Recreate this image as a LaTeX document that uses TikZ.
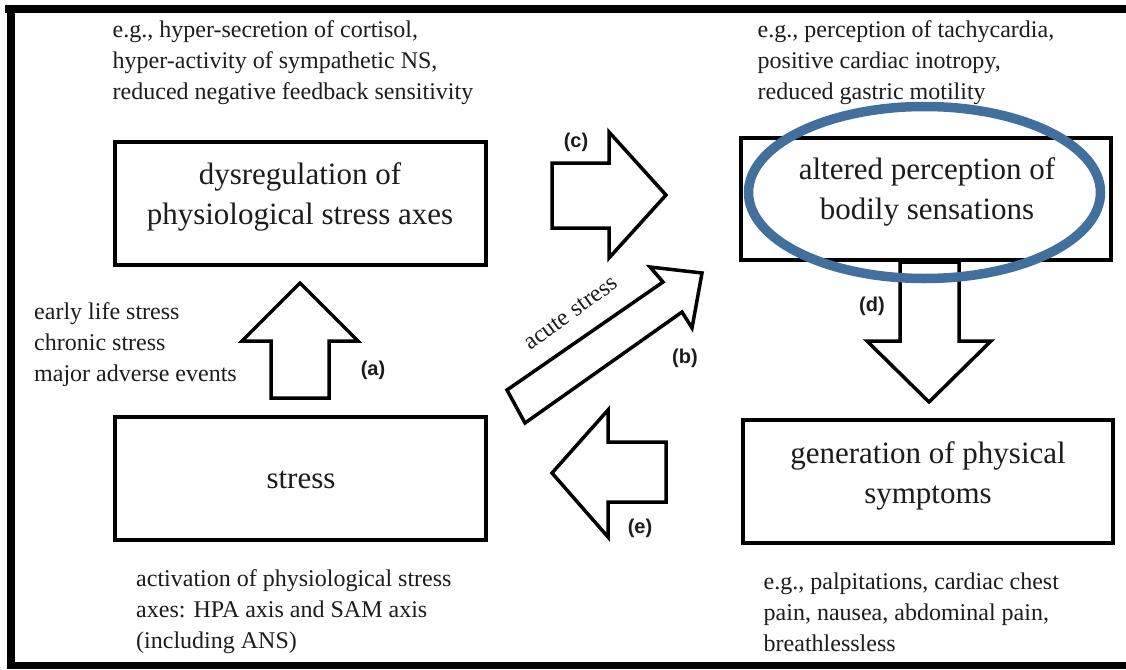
\documentclass[tikz,border=0pt]{standalone}
\usepackage{fontspec}
\setmainfont{Liberation Serif}
\newfontfamily\labfont{Liberation Sans}
\definecolor{ellcol}{RGB}{65,112,158}
\definecolor{ink}{RGB}{28,28,28}
\tikzset{
  smalltext/.style={inner sep=0pt, anchor=west, align=left, text=ink, font=\fontsize{24}{31}\selectfont},
  bigtext/.style={inner sep=0pt, align=center, text=ink, font=\fontsize{31}{40}\selectfont},
  boxnode/.style={draw=black, line width=3.5pt, rectangle, inner sep=0pt},
  fatarrow/.style={draw=black, fill=white, line width=3.5pt, line join=miter},
  lab/.style={inner sep=0pt, text=ink, font=\labfont\bfseries\fontsize{20}{24}\selectfont},
}
\begin{document}
\begin{tikzpicture}[x=1pt,y=-1pt]
\useasboundingbox (0,0) rectangle (1126,669);
\fill[white] (0,0) rectangle (1126,669);
% frame
\fill[black] (5,5) rectangle (1126,13);
\fill[black] (7,5) rectangle (15,669);
\fill[black] (7,662) rectangle (1126,669);

% boxes
\node[boxnode, minimum width=371pt, minimum height=123pt] (dys) at (300.5,203.5) {};
\node[boxnode, minimum width=370pt, minimum height=122pt] (alt) at (926,199) {};
\node[boxnode, minimum width=371pt, minimum height=123pt] (str) at (300.5,478.5) {};
\node[boxnode, minimum width=370pt, minimum height=123pt] (gen) at (928,481.5) {};

\node[bigtext] (dyst) at (300,197) {dysregulation of\\physiological stress axes};
\node[bigtext] (altt) at (927,192) {altered perception of\\bodily sensations};
\node[bigtext] (strt) at (301,480) {stress};
\node[bigtext] (gent) at (928,476) {generation of physical\\symptoms};

% side texts
\node[smalltext] (tl) at (112.5,63) {e.g., hyper-secretion of cortisol,\\hyper-activity of sympathetic NS,\\reduced negative feedback sensitivity};
\node[smalltext] (tr) at (757.5,63) {e.g., perception of tachycardia,\\positive cardiac inotropy,\\reduced gastric motility};
\node[smalltext] (bl) at (136,612) {activation of physiological stress\\axes: HPA axis and SAM axis\\(including ANS)};
\node[smalltext] (br) at (763.5,612) {e.g., palpitations, cardiac chest\\pain, nausea, abdominal pain,\\breathlessless};
\node[smalltext] (lt) at (34,345) {early life stress\\chronic stress\\major adverse events};

% block arrows
% (a) up
\draw[fatarrow] (271,398) -- (271,341) -- (242,341) -- (300,283) -- (358,341) -- (329,341) -- (329,398) -- cycle;
% (c) right
\draw[fatarrow] (552,163) -- (609,163) -- (609,132) -- (666,195) -- (609,258) -- (609,228) -- (552,228) -- cycle;
% (d) down
\draw[fatarrow] (900,262) -- (900,341) -- (867,341) -- (929,402) -- (991,341) -- (959,341) -- (959,262) -- cycle;
% (e) left
\draw[fatarrow] (666,442) -- (608,442) -- (608,410) -- (552,473) -- (608,537) -- (608,502) -- (666,502) -- cycle;
% (b) diagonal
\draw[fatarrow] (507,390) -- (663,282) -- (650,267) -- (702,273) -- (692,328) -- (682,312) -- (525,423) -- cycle;
\node[inner sep=0pt, text=ink, rotate=36, font=\fontsize{24}{28}\selectfont] (acute) at (571,313) {acute stress};

% highlight ellipse
\draw[ellcol, line width=9.5pt] (924.5,192.5) ellipse [x radius=176, y radius=86];

% labels
\node[lab] (la) at (373,370) {(a)};
\node[lab] (lb) at (685,358) {(b)};
\node[lab] (lc) at (576,142) {(c)};
\node[lab] (ld) at (872,306) {(d)};
\node[lab] (le) at (640,528) {(e)};
\end{tikzpicture}
\end{document}
